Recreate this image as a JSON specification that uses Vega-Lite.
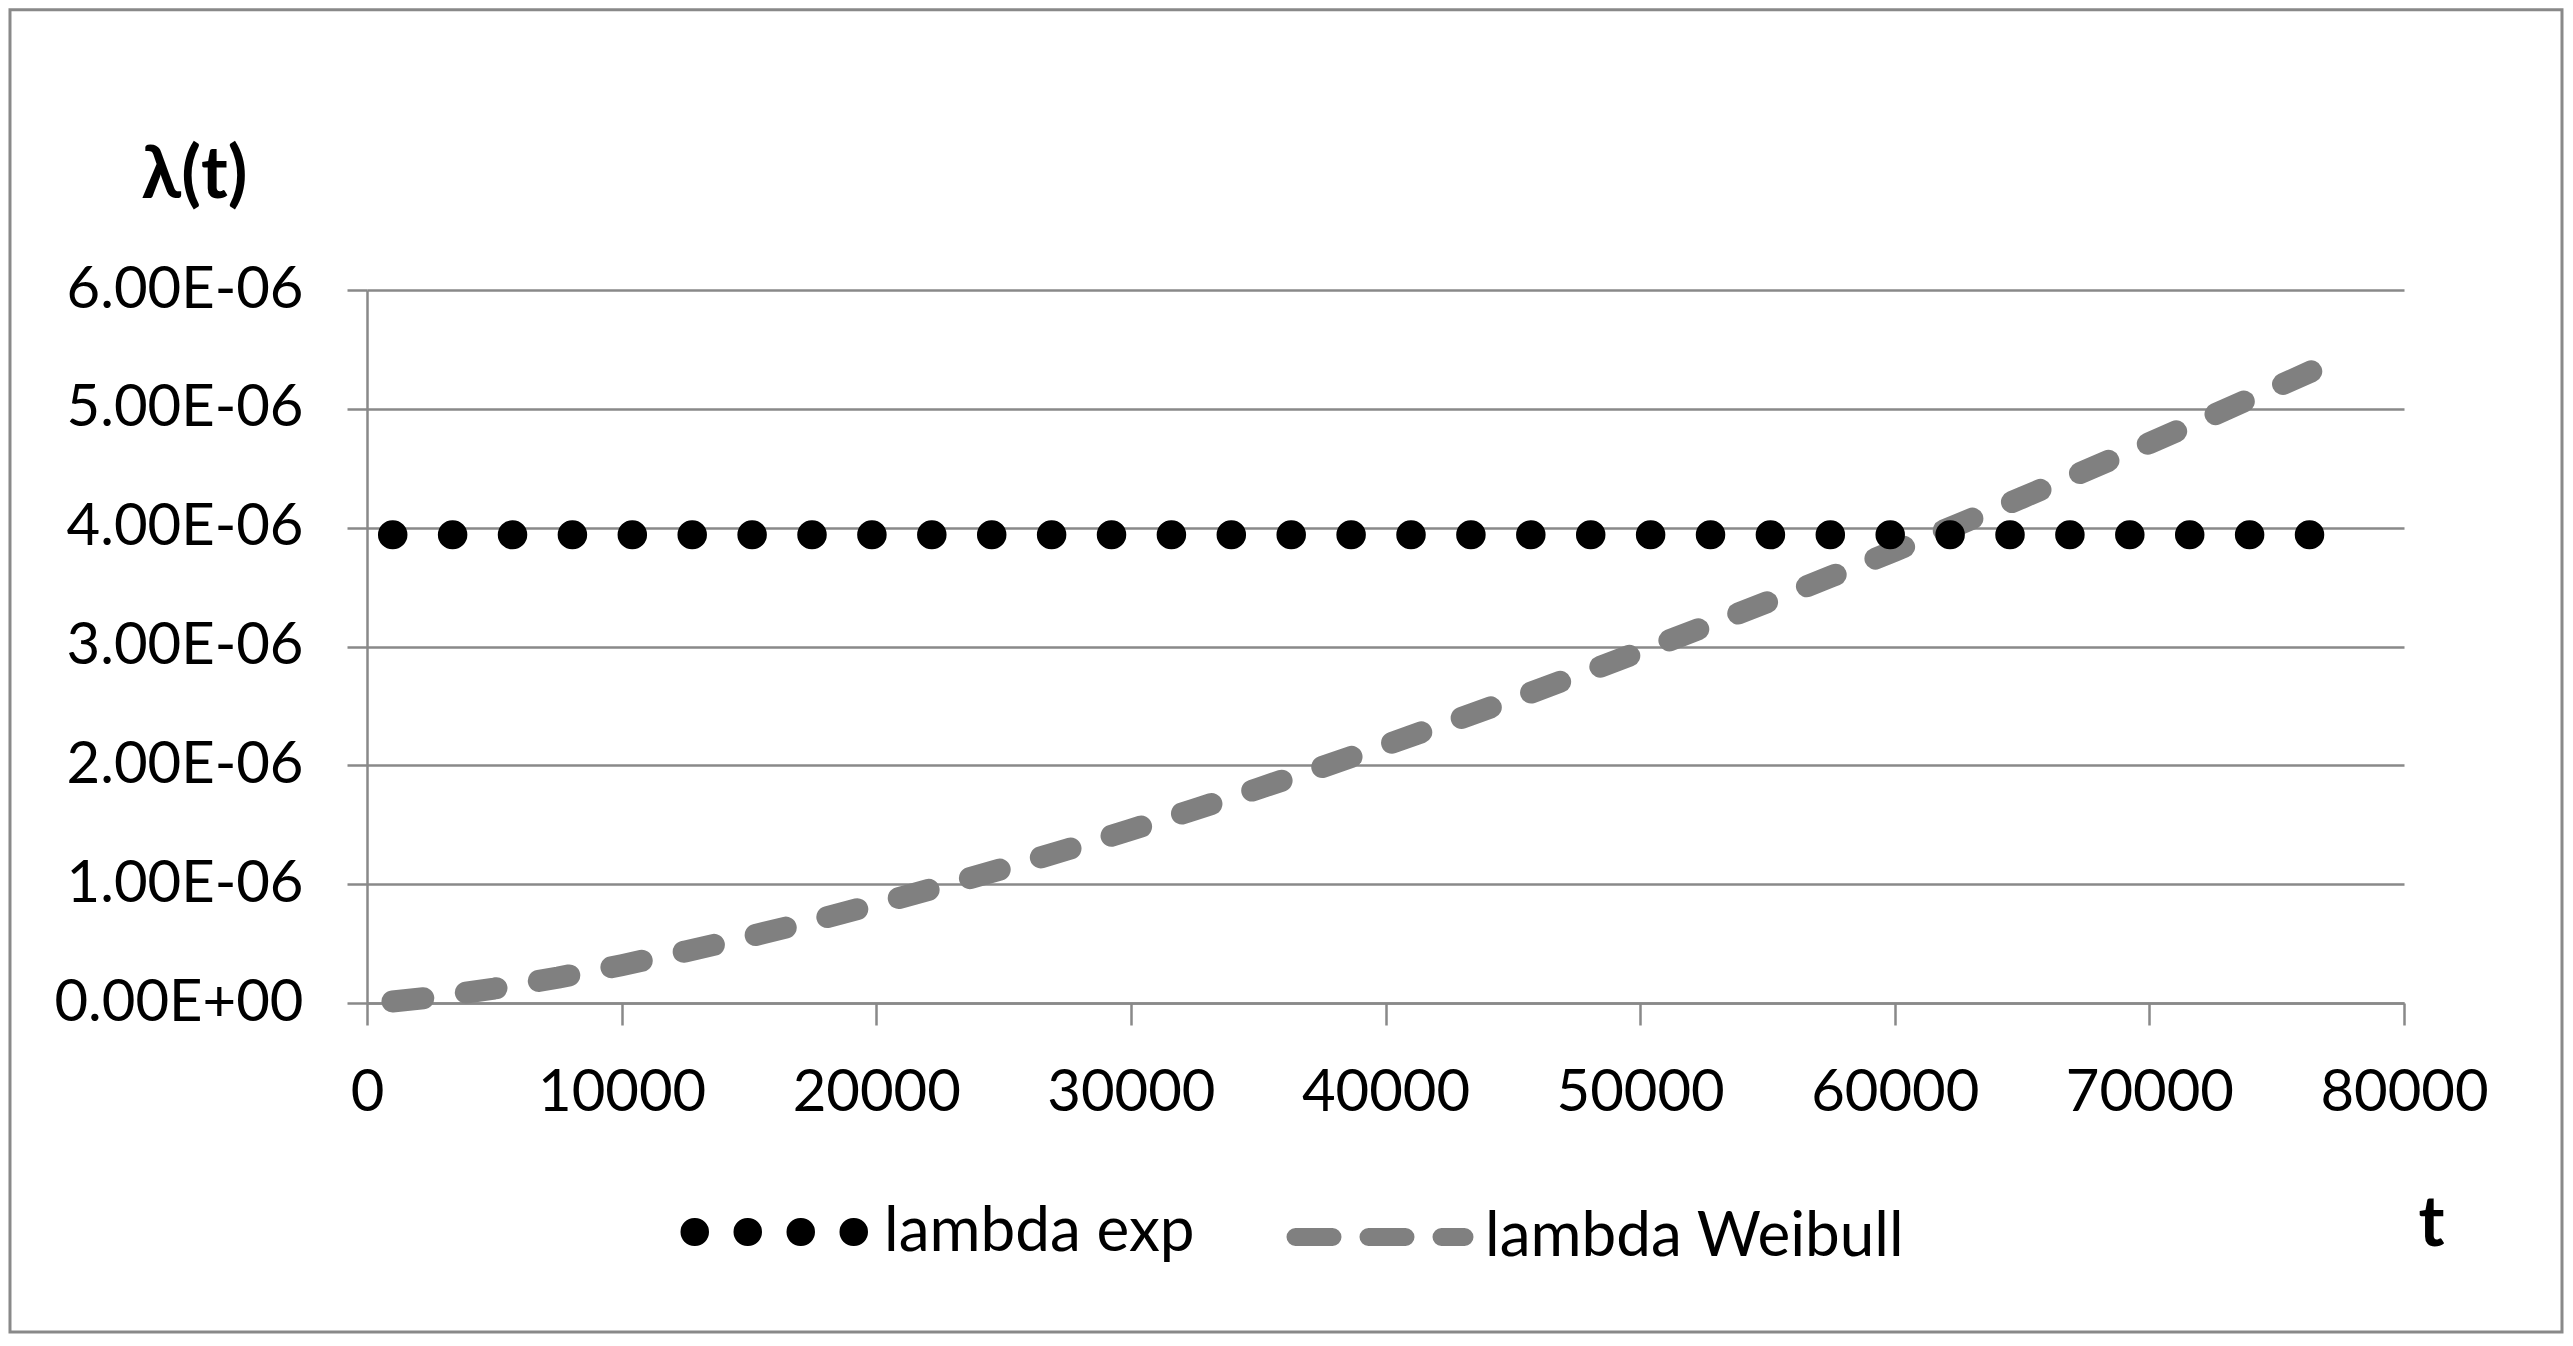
{
  "$schema": "https://vega.github.io/schema/vega-lite/v6.json",
  "width": 2037,
  "height": 713,
  "autosize": {"type": "none"},
  "padding": {"left": 367, "top": 290, "right": 169, "bottom": 343},
  "background": "white",
  "config": {
    "view": {"stroke": null},
    "axis": {
      "labelFont": "Lato",
      "labelFontSize": 58,
      "labelColor": "#000000",
      "labelLimit": 2000,
      "domainColor": "#898989",
      "domainWidth": 2.5,
      "tickColor": "#898989",
      "tickWidth": 2.5,
      "gridColor": "#898989",
      "gridWidth": 2.5,
      "titleFont": "Lato",
      "titleFontWeight": "bold",
      "titleColor": "#000000"
    }
  },
  "datasets": {
    "series": [
      {"t": 1000, "lambda": 0.00000394, "series": "lambda exp"},
      {"t": 76400, "lambda": 0.00000394, "series": "lambda exp"},
      {"t": 1000, "lambda": 0.0000000131, "series": "lambda Weibull"},
      {"t": 2500, "lambda": 0.0000000466, "series": "lambda Weibull"},
      {"t": 5000, "lambda": 0.0000001218, "series": "lambda Weibull"},
      {"t": 7500, "lambda": 0.0000002137, "series": "lambda Weibull"},
      {"t": 10000, "lambda": 0.0000003182, "series": "lambda Weibull"},
      {"t": 12500, "lambda": 0.0000004334, "series": "lambda Weibull"},
      {"t": 15000, "lambda": 0.000000558, "series": "lambda Weibull"},
      {"t": 17500, "lambda": 0.0000006908, "series": "lambda Weibull"},
      {"t": 20000, "lambda": 0.0000008311, "series": "lambda Weibull"},
      {"t": 22500, "lambda": 0.0000009783, "series": "lambda Weibull"},
      {"t": 25000, "lambda": 0.000001132, "series": "lambda Weibull"},
      {"t": 27500, "lambda": 0.0000012916, "series": "lambda Weibull"},
      {"t": 30000, "lambda": 0.000001457, "series": "lambda Weibull"},
      {"t": 32500, "lambda": 0.0000016281, "series": "lambda Weibull"},
      {"t": 35000, "lambda": 0.000001804, "series": "lambda Weibull"},
      {"t": 37500, "lambda": 0.0000019849, "series": "lambda Weibull"},
      {"t": 40000, "lambda": 0.0000021705, "series": "lambda Weibull"},
      {"t": 42500, "lambda": 0.0000023608, "series": "lambda Weibull"},
      {"t": 45000, "lambda": 0.0000025551, "series": "lambda Weibull"},
      {"t": 47500, "lambda": 0.0000027539, "series": "lambda Weibull"},
      {"t": 50000, "lambda": 0.0000029565, "series": "lambda Weibull"},
      {"t": 52500, "lambda": 0.0000031633, "series": "lambda Weibull"},
      {"t": 55000, "lambda": 0.0000033737, "series": "lambda Weibull"},
      {"t": 57500, "lambda": 0.0000035884, "series": "lambda Weibull"},
      {"t": 60000, "lambda": 0.0000038058, "series": "lambda Weibull"},
      {"t": 62500, "lambda": 0.000004027, "series": "lambda Weibull"},
      {"t": 65000, "lambda": 0.0000042518, "series": "lambda Weibull"},
      {"t": 67500, "lambda": 0.00000448, "series": "lambda Weibull"},
      {"t": 70000, "lambda": 0.0000047117, "series": "lambda Weibull"},
      {"t": 72500, "lambda": 0.0000049464, "series": "lambda Weibull"},
      {"t": 75000, "lambda": 0.0000051844, "series": "lambda Weibull"},
      {"t": 76400, "lambda": 0.000005319, "series": "lambda Weibull"}
    ]
  },
  "layer": [
    {
      "data": {"values": [{}]},
      "mark": {"type": "rect", "fill": null, "stroke": "#898989", "strokeWidth": 3, "clip": false},
      "encoding": {
        "x": {"datum": -14021, "type": "quantitative", "scale": {"domain": [0, 80000], "nice": false, "zero": false}},
        "x2": {"datum": 86205},
        "y": {"datum": 0.000008359, "type": "quantitative", "scale": {"domain": [0, 0.000006], "nice": false, "zero": false}},
        "y2": {"datum": -0.000002769}
      }
    },
    {
      "data": {"name": "series"},
      "transform": [{"filter": "datum.series === 'lambda Weibull'"}],
      "mark": {"type": "line", "strokeWidth": 22, "strokeCap": "round", "strokeJoin": "round", "strokeDash": [31, 42.9], "clip": false},
      "encoding": {
        "x": {"field": "t", "type": "quantitative"},
        "y": {"field": "lambda", "type": "quantitative"},
        "color": {"field": "series", "type": "nominal"}
      }
    },
    {
      "data": {"name": "series"},
      "transform": [{"filter": "datum.series === 'lambda exp'"}],
      "mark": {"type": "line", "strokeWidth": 29, "strokeCap": "round", "strokeDash": [0.5, 59.4], "clip": false},
      "encoding": {
        "x": {
          "field": "t",
          "type": "quantitative",
          "axis": {
            "values": [0, 10000, 20000, 30000, 40000, 50000, 60000, 70000, 80000],
            "format": "d",
            "grid": false,
            "tickSize": 22,
            "labelPadding": 39,
            "labelFlush": false,
            "labelOverlap": false,
            "title": "t",
            "titleFontSize": 70,
            "titleX": 2064,
            "titleY": 242,
            "titleAlign": "center",
            "titleBaseline": "alphabetic"
          }
        },
        "y": {
          "field": "lambda",
          "type": "quantitative",
          "axis": {
            "values": [0, 0.000001, 0.000002, 0.000003, 0.000004, 0.000005, 0.000006],
            "labelExpr": "datum.value === 0 ? '0.00E+00' : format(datum.value * 1e6, '.2f') + 'E-06'",
            "grid": true,
            "tickSize": 20,
            "labelPadding": 44,
            "labelOverlap": false,
            "title": "λ(t)",
            "titleFontSize": 72,
            "titleAngle": 0,
            "titleX": -173,
            "titleY": -93,
            "titleAlign": "center",
            "titleBaseline": "alphabetic"
          }
        },
        "color": {
          "field": "series",
          "type": "nominal",
          "scale": {"domain": ["lambda exp", "lambda Weibull"], "range": ["#000000", "#808080"]},
          "legend": {
            "orient": "none",
            "legendX": 308,
            "legendY": 912,
            "direction": "horizontal",
            "title": null,
            "padding": 0,
            "symbolType": "stroke",
            "symbolSize": 28561,
            "labelFont": "Lato",
            "labelFontSize": 62,
            "labelColor": "#000000",
            "labelLimit": 2000,
            "labelOffset": 12,
            "columnPadding": 64,
            "encode": {
              "symbols": {
                "update": {
                  "x": {"value": 104},
                  "y": {"signal": "datum.value === 'lambda exp' ? 30 : 20"},
                  "size": {"value": 28561},
                  "strokeDash": {"signal": "datum.value === 'lambda exp' ? [0.5, 52.5] : [37, 36]"},
                  "strokeWidth": {"signal": "datum.value === 'lambda exp' ? 28 : 18"},
                  "strokeCap": {"value": "round"}
                }
              },
              "labels": {
                "update": {
                  "x": {"value": 209},
                  "y": {"signal": "datum.value === 'lambda exp' ? 30 : 20"},
                  "baseline": {"value": "middle"}
                }
              }
            }
          }
        }
      }
    }
  ]
}
